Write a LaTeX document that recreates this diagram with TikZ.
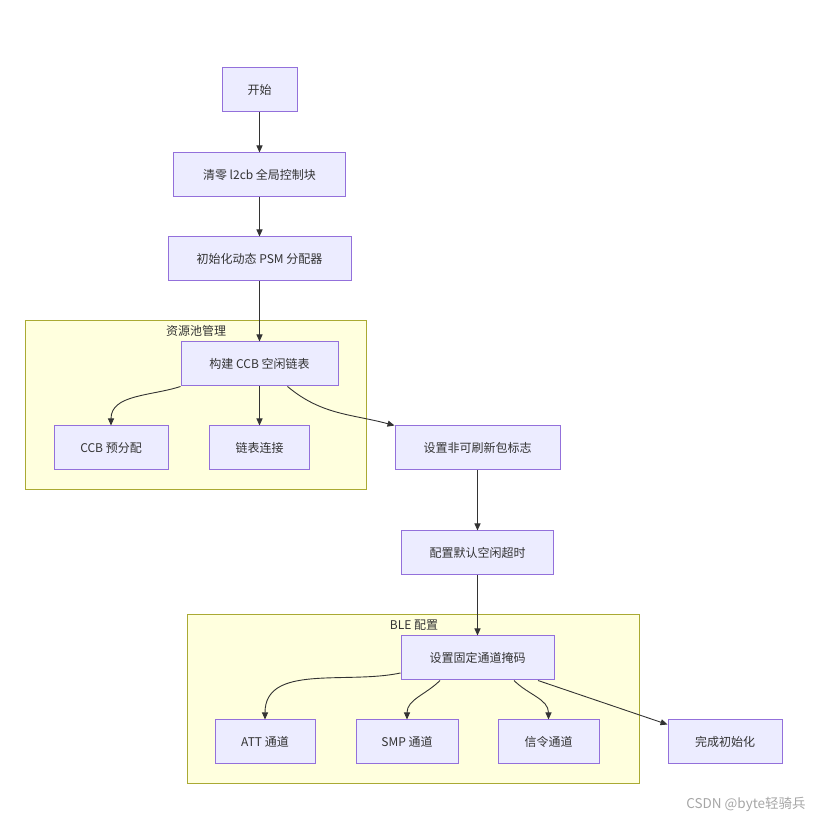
\documentclass[tikz,border=0pt]{standalone}
\usepackage{fontspec}
\setmainfont{Noto Sans CJK SC}
\usetikzlibrary{arrows.meta}
\definecolor{boxfill}{HTML}{ECECFF}
\definecolor{boxline}{HTML}{9370DB}
\definecolor{groupfill}{HTML}{FFFFDE}
\definecolor{groupline}{HTML}{AAAA33}
\definecolor{ink}{HTML}{333333}
\begin{document}
\begin{tikzpicture}[x=1pt, y=1pt,
    step box/.style ={rectangle, draw=boxline, fill=boxfill, line width=1pt,
      minimum height=44pt, inner sep=0pt, text=ink, font=\fontsize{12}{14}\selectfont},
    group/.style ={rectangle, draw=groupline, fill=groupfill, line width=1pt,
      minimum height=169pt, inner sep=0pt},
    grouptitle/.style ={text=ink, inner sep=0pt, font=\fontsize{12}{14}\selectfont},
    flow/.style ={draw=ink, line width=0.9pt, -{Triangle[length=7pt,width=6pt]}}]
   \useasboundingbox (0,0) rectangle (823,820);
   % groups
   \node[group, minimum width=341pt] (P) at (195.5,414.5) {};
   \node[group, minimum width=452pt] (Q) at (413,120.5) {};
   \node[grouptitle] (PT) at (196,489) {资源池管理};
   \node[grouptitle] (QT) at (414,195) {BLE 配置};
   % steps
   \node[step box, minimum width=75pt] (A) at (259.5,730) {开始};
   \node[step box, minimum width=172pt] (B) at (259.5,645) {清零 l2cb 全局控制块};
   \node[step box, minimum width=183pt] (C) at (259.5,561) {初始化动态 PSM 分配器};
   \node[step box, minimum width=157pt] (D) at (259.5,456) {构建 CCB 空闲链表};
   \node[step box, minimum width=114pt] (E) at (111,372) {CCB 预分配};
   \node[step box, minimum width=100pt] (F) at (259.5,372) {链表连接};
   \node[step box, minimum width=165pt] (G) at (477.5,372) {设置非可刷新包标志};
   \node[step box, minimum width=152pt] (H) at (477.5,267) {配置默认空闲超时};
   \node[step box, minimum width=153pt] (I) at (477.5,162) {设置固定通道掩码};
   \node[step box, minimum width=100pt] (J) at (265,78) {ATT 通道};
   \node[step box, minimum width=102pt] (K) at (407,78) {SMP 通道};
   \node[step box, minimum width=101pt] (L) at (548.5,78) {信令通道};
   \node[step box, minimum width=114pt] (M) at (725,78) {完成初始化};
   \node[text=black!35, inner sep=0pt, font=\fontsize{13.5}{15}\selectfont] (W) at (746,16) {CSDN @byte轻骑兵};
   % connectors
   \draw[flow] (A) to  (B);
   \draw[flow] (B) to  (C);
   \draw[flow] (C) to  (D);
   \draw[flow] (D.south west) to[out=-162,in=90]  (E.north);
   \draw[flow] (D) to  (F);
   \draw[flow] ([xshift=28pt]D.south) to[out=-40,in=165]  (G.north west);
   \draw[flow] (G) to  (H);
   \draw[flow] (H) to  (I);
   \draw[flow] ([yshift=-15pt]I.west) to[out=-168,in=90]  (J.north);
   \draw[flow] ([xshift=-37.5pt]I.south) to[out=-135,in=90]  (K.north);
   \draw[flow] ([xshift=36.5pt]I.south) to[out=-45,in=90]  (L.north);
   \draw[flow] ([xshift=60.5pt]I.south) to  ([yshift=-5pt]M.north west);
 \end{tikzpicture}
\end{document}
